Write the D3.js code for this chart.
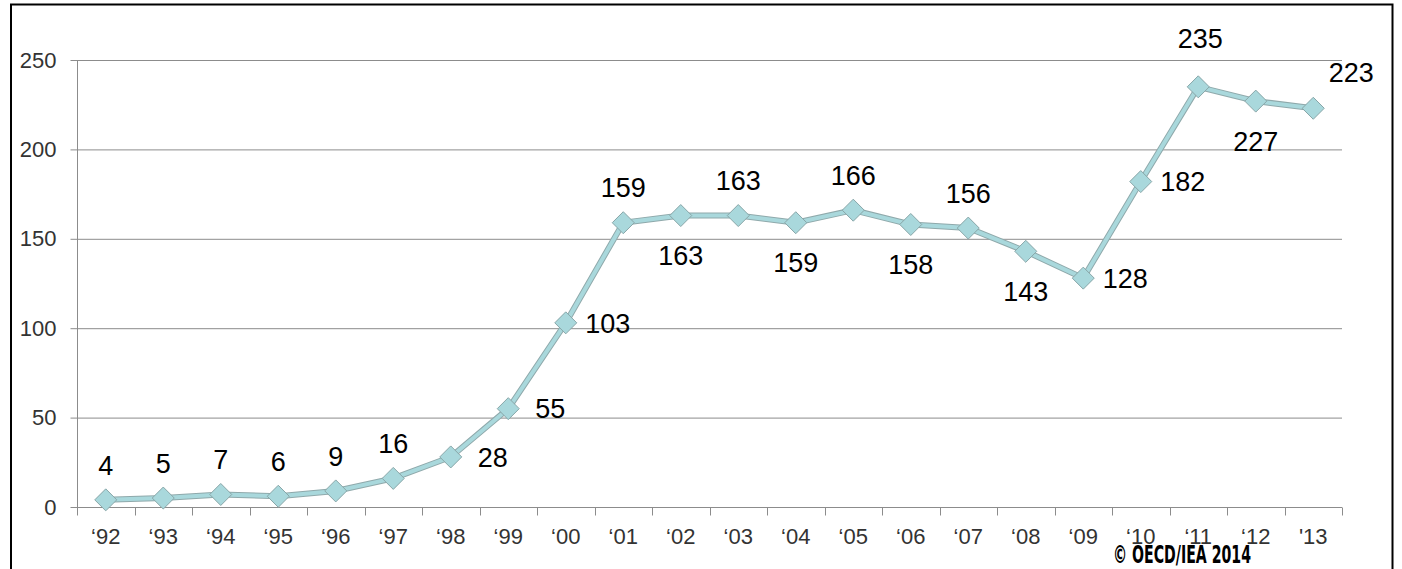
<!DOCTYPE html>
<html><head><meta charset="utf-8">
<script src="https://cdn.jsdelivr.net/npm/d3@7"></script>
<style>body{margin:0;background:#fff}svg{display:block}</style>
</head><body>
<svg id="c" width="1402" height="569"></svg>
<script>
const years = ["\u201892","\u201893","\u201894","\u201895","\u201896","\u201897","\u201898","\u201899","\u201800","\u201801","\u201802","\u201803","\u201804","\u201805","\u201806","\u201807","\u201808","\u201809","\u201810","\u201811","\u201812","'13"];
const values = [4,5,7,6,9,16,28,55,103,159,163,163,159,166,158,156,143,128,182,235,227,223];
const labelPlace = ["t","t","t","t","t","t","r","r","r","t","b","t","b","t","b","t","b","r","r","T","b","tr"];
const yTicks = [0,50,100,150,200,250];

const svg = d3.select("#c");
const L = 77, R = 1342, T = 60, B = 507;
svg.append("rect").attr("x",11).attr("y",4.5).attr("width",1381.5).attr("height",600)
  .attr("fill","none").attr("stroke","#000").attr("stroke-width",2);

const x = d3.scaleBand().domain(years).range([L,R]);
const y = d3.scaleLinear().domain([0,250]).range([B,T]);

svg.append("g").selectAll("line").data(yTicks.filter(d=>d>0)).join("line")
  .attr("x1",L).attr("x2",R).attr("y1",d=>y(d)+0.5).attr("y2",d=>y(d)+0.5)
  .attr("stroke","#8c8c8c").attr("stroke-width",1);

const ya = svg.append("g").attr("transform",`translate(${L+0.5},0)`)
  .call(d3.axisLeft(y).tickValues(yTicks).tickSize(7).tickPadding(5));
ya.select(".domain").attr("stroke","#8c8c8c").attr("d",`M0,${T}V${B}`);
ya.selectAll(".tick line").attr("stroke","#8c8c8c").attr("x1",-7).attr("x2",0);
ya.selectAll("text").attr("font-family","Liberation Sans, Arial, sans-serif").attr("font-size",22).attr("fill","#333").attr("x",-21);

const xa = svg.append("g").attr("transform",`translate(0,${B+0.5})`);
xa.append("line").attr("x1",L).attr("x2",R).attr("stroke","#8c8c8c");
xa.selectAll("line.t").data(d3.range(years.length+1)).join("line").attr("class","t")
  .attr("x1",i=>Math.round(L+i*x.step())+0.5).attr("x2",i=>Math.round(L+i*x.step())+0.5)
  .attr("y1",0).attr("y2",8).attr("stroke","#8c8c8c");
xa.selectAll("text").data(years).join("text")
  .attr("x",d=>x(d)+x.bandwidth()/2).attr("y",36).attr("text-anchor","middle")
  .attr("font-family","Liberation Sans, Arial, sans-serif").attr("font-size",22).attr("fill","#333")
  .text(d=>d);

const cx = (d,i)=>x(years[i])+x.bandwidth()/2;
const line = d3.line().x((d,i)=>cx(d,i)).y(d=>y(d));
svg.append("path").datum(values).attr("d",line).attr("fill","none").attr("stroke","#8fa9ab").attr("stroke-width",6);
svg.append("path").datum(values).attr("d",line).attr("fill","none").attr("stroke","#a9d8dc").attr("stroke-width",4);

svg.append("g").selectAll("path").data(values).join("path")
  .attr("transform",(d,i)=>`translate(${cx(d,i)},${y(d)})`)
  .attr("d","M0,-11L11,0L0,11L-11,0Z")
  .attr("fill","#a9d8dc").attr("stroke","#88a6a8").attr("stroke-width",1);

const off = {t:[0,-35],T:[2,-49],b:[0,40],r:[42,0],tr:[38,-36]};
svg.append("g").selectAll("text").data(values).join("text")
  .attr("x",(d,i)=>cx(d,i)+off[labelPlace[i]][0])
  .attr("y",(d,i)=>y(d)+off[labelPlace[i]][1])
  .attr("dy","0.36em").attr("text-anchor","middle")
  .attr("font-family","Liberation Sans, Arial, sans-serif").attr("font-size",27).attr("fill","#000")
  .text(d=>d);

svg.append("text").attr("x",1113).attr("y",563).attr("textLength",138).attr("lengthAdjust","spacingAndGlyphs")
  .attr("font-family","DejaVu Sans Condensed, DejaVu Sans, sans-serif").attr("font-weight","bold").attr("font-size",25)
  .attr("fill","#000").text("\u00A9 OECD/IEA 2014");
</script>
</body></html>
